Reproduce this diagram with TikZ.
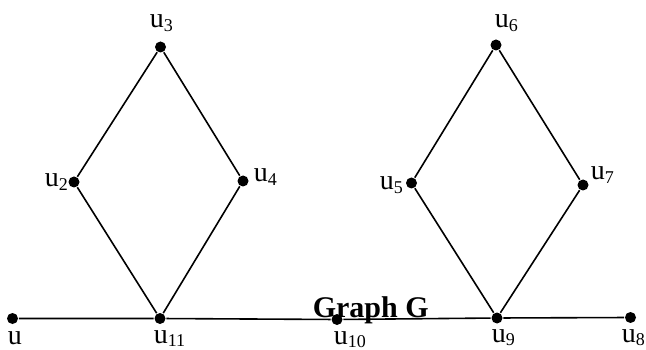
\documentclass[tikz,border=0pt]{standalone}
\usepackage{fontspec}
\setmainfont{Liberation Serif}
\usepackage{tikz}

\newcommand{\subidx}[1]{\raisebox{-3.5pt}{\fontsize{18}{18}\selectfont #1}}

\begin{document}
\begin{tikzpicture}[x=1pt, y=-1pt, line width=1.6pt,
  vtx/.style={circle, fill, inner sep=0pt, minimum size=11pt},
  lbl/.style={anchor=base west, inner sep=0pt, font=\fontsize{28}{30}\selectfont}]
  \useasboundingbox (0,0) rectangle (646,350);
  \node[anchor=base west, inner sep=0pt, font=\bfseries\fontsize{30}{32}\selectfont] (title) at (312,317) {Graph G};
  % vertices
  \node[vtx] (u)   at (12.5,318.5) {};
  \node[vtx] (u11) at (160,318.5) {};
  \node[vtx] (u10) at (337,319.5) {};
  \node[vtx] (u9)  at (497,318) {};
  \node[vtx] (u8)  at (630.5,317.5) {};
  \node[vtx] (u2)  at (74,182) {};
  \node[vtx] (u3)  at (160.5,47) {};
  \node[vtx] (u4)  at (243,181) {};
  \node[vtx] (u5)  at (411.5,183) {};
  \node[vtx] (u6)  at (496,45) {};
  \node[vtx] (u7)  at (583,185) {};
  % edges
  \draw (u) -- (u11) -- (u10) -- (u9) -- (u8);
  \draw (u11) -- (u2) -- (u3) -- (u4) -- (u11);
  \draw (u9) -- (u5) -- (u6) -- (u7) -- (u9);
  % labels
  \node[lbl] (lu)   at (7,344)   {u};
  \node[lbl] (lu11) at (153,343) {u\subidx{11}};
  \node[lbl] (lu10) at (333,344) {u\subidx{10}};
  \node[lbl] (lu9)  at (491,342) {u\subidx{9}};
  \node[lbl] (lu8)  at (621,342) {u\subidx{8}};
  \node[lbl] (lu2)  at (44,187)  {u\subidx{2}};
  \node[lbl] (lu3)  at (149,28)  {u\subidx{3}};
  \node[lbl] (lu4)  at (253,182) {u\subidx{4}};
  \node[lbl] (lu5)  at (379,190) {u\subidx{5}};
  \node[lbl] (lu6)  at (494,28)  {u\subidx{6}};
  \node[lbl] (lu7)  at (590,180) {u\subidx{7}};
\end{tikzpicture}
\end{document}
